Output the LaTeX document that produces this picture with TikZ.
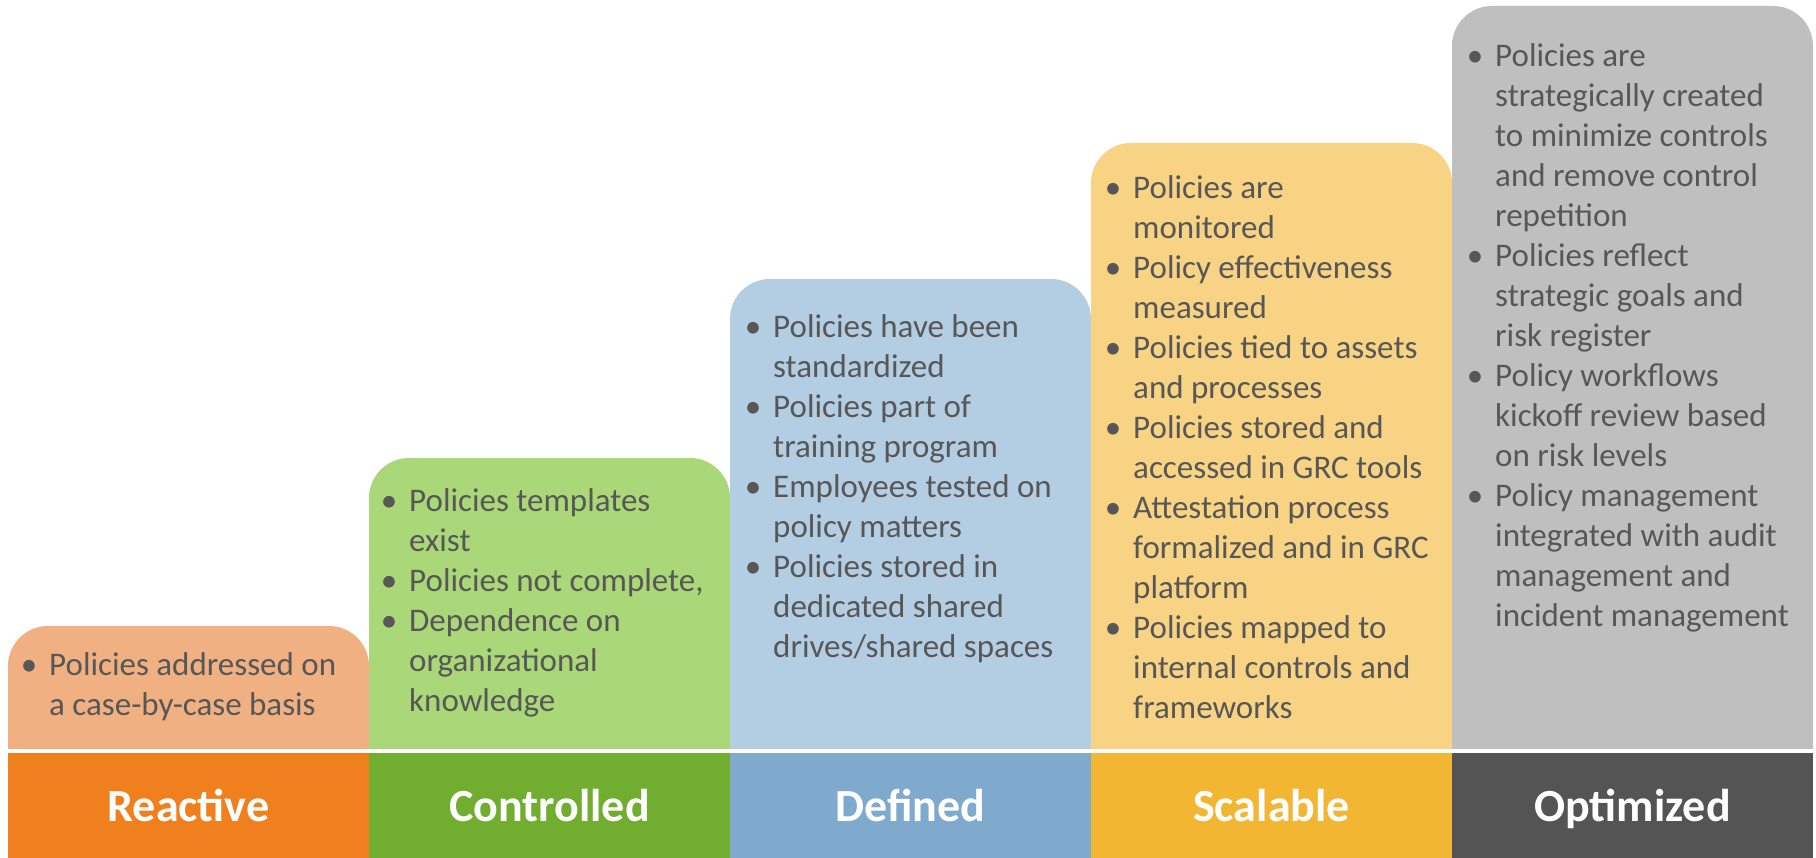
\documentclass[tikz,border=0pt]{standalone}
\usepackage{fontspec}
\setmainfont{Carlito}
\definecolor{orangeL}{HTML}{F0B081}
\definecolor{orangeD}{HTML}{F0801E}
\definecolor{greenL}{HTML}{AAD878}
\definecolor{greenD}{HTML}{71AE2F}
\definecolor{blueL}{HTML}{B3CDE3}
\definecolor{blueD}{HTML}{7FA9CD}
\definecolor{yellowL}{HTML}{F7D383}
\definecolor{yellowD}{HTML}{F2B632}
\definecolor{grayL}{HTML}{BFBFBF}
\definecolor{grayD}{HTML}{545454}
\definecolor{txtgray}{HTML}{575757}
\newcommand{\itm}{\makebox[40pt][c]{\textbullet}}
\tikzset{
  boxtext/.style={anchor=base west, inner sep=0pt, text=txtgray, font=\fontsize{33}{40}\selectfont},
  barlabel/.style={anchor=base, inner sep=0pt, text=white, font=\fontsize{46}{50}\selectfont\bfseries}
}
\begin{document}
\begin{tikzpicture}[x=1pt, y=1pt]
      \useasboundingbox (0, 0) rectangle (1816, 858);

      % steps and bars
      \foreach \i/\xl/\yt/\lt/\dk/\lbl in {0/8/232/orangeL/orangeD/Reactive,
          1/369/400/greenL/greenD/Controlled, 2/730/579/blueL/blueD/Defined,
          3/1091/715/yellowL/yellowD/Scalable, 4/1452/852/grayL/grayD/Optimized} {
        \fill[\lt] (\xl, 109) -- (\xl, \yt-40) arc[start angle=180, end angle=90, radius=40pt]
          -- (\xl+321, \yt) arc[start angle=90, end angle=0, radius=40pt] -- (\xl+361, 109) -- cycle;
        \fill[\dk] (\xl, 0) rectangle +(361, 105);
        \node[barlabel] (bar\i) at (\xl+180.5, 36) {\lbl};
      }

      % texts
      \node[boxtext] (txt0) at (9, 182) {\begin{tabular}[t]{@{}l@{}l@{}}
        \itm & Policies addressed on\\
             & a case-by-case basis
      \end{tabular}};
      \node[boxtext] (txt1) at (369, 346) {\begin{tabular}[t]{@{}l@{}l@{}}
        \itm & Policies templates\\
             & exist\\
        \itm & Policies not complete,\\
        \itm & Dependence on\\
             & organizational\\
             & knowledge
      \end{tabular}};
      \node[boxtext] (txt2) at (733, 520) {\begin{tabular}[t]{@{}l@{}l@{}}
        \itm & Policies have been\\
             & standardized\\
        \itm & Policies part of\\
             & training program\\
        \itm & Employees tested on\\
             & policy matters\\
        \itm & Policies stored in\\
             & dedicated shared\\
             & drives/shared spaces
      \end{tabular}};
      \node[boxtext] (txt3) at (1093, 659) {\begin{tabular}[t]{@{}l@{}l@{}}
        \itm & Policies are\\
             & monitored\\
        \itm & Policy effectiveness\\
             & measured\\
        \itm & Policies tied to assets\\
             & and processes\\
        \itm & Policies stored and\\
             & accessed in GRC tools\\
        \itm & Attestation process\\
             & formalized and in GRC\\
             & platform\\
        \itm & Policies mapped to\\
             & internal controls and\\
             & frameworks
      \end{tabular}};
      \node[boxtext] (txt4) at (1455, 791) {\begin{tabular}[t]{@{}l@{}l@{}}
        \itm & Policies are\\
             & strategically created\\
             & to minimize controls\\
             & and remove control\\
             & repetition\\
        \itm & Policies reflect\\
             & strategic goals and\\
             & risk register\\
        \itm & Policy workflows\\
             & kickoff review based\\
             & on risk levels\\
        \itm & Policy management\\
             & integrated with audit\\
             & management and\\
             & incident management
      \end{tabular}};
    \end{tikzpicture}
\end{document}
